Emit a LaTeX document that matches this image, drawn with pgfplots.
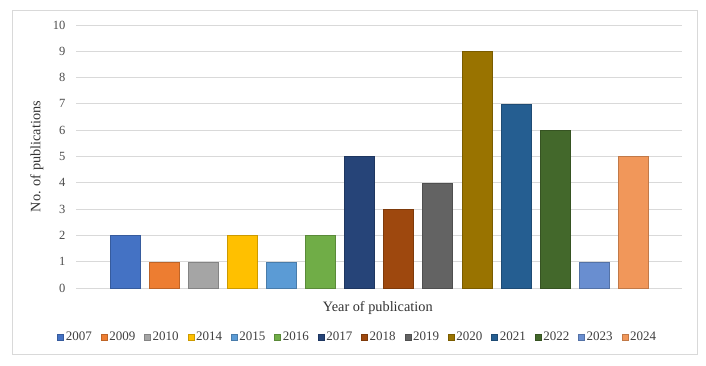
\documentclass[border=0pt]{standalone}
\usepackage{fontspec}
\setmainfont{Liberation Serif}
\usepackage{pgfplots}
\pgfplotsset{compat=1.18}
\definecolor{c07}{HTML}{4472C4}
\definecolor{c09}{HTML}{ED7D31}
\definecolor{c10}{HTML}{A5A5A5}
\definecolor{c14}{HTML}{FFC000}
\definecolor{c15}{HTML}{5B9BD5}
\definecolor{c16}{HTML}{70AD47}
\definecolor{c17}{HTML}{264478}
\definecolor{c18}{HTML}{9E480E}
\definecolor{c19}{HTML}{636363}
\definecolor{c20}{HTML}{997300}
\definecolor{c21}{HTML}{255E91}
\definecolor{c22}{HTML}{43682B}
\definecolor{c23}{HTML}{698ED0}
\definecolor{c24}{HTML}{F1975A}
\definecolor{gridgray}{HTML}{D9D9D9}
\definecolor{framegray}{HTML}{D9D9D9}
\begin{document}
\begin{tikzpicture}[x=1pt,y=1pt]
\path[use as bounding box, fill=white] (-76,-77) rectangle (630,288);
\draw[framegray, line width=1pt] (-63,-66) rectangle (621,278);
\begin{axis}[at={(0,0)}, anchor=south west, scale only axis,
  width=606pt, height=263pt,
  xmin=-1.25, xmax=14.25, ymin=0, ymax=10,
  ybar, bar width=30pt, bar shift=0pt,
  xtick=\empty, ytick={0,1,...,10},
  ymajorgrids, grid style={draw=gridgray, line width=0.9pt},
  axis line style={draw=none}, major tick style={draw=none},
  /pgf/number format/assume math mode=true,
  yticklabel style={font=\fontsize{12.5}{14}\selectfont, text=black!70, xshift=-7pt},
  ylabel={No. of publications}, xlabel={Year of publication},
  label style={font=\fontsize{14.3}{16}\selectfont, text=black!80},
  ylabel style={at={(axis description cs:-0.0644,0.5)}, anchor=center},
  xlabel style={at={(axis description cs:0.498,-0.076)}, anchor=center},
  legend columns=14,
  legend style={at={(axis description cs:0.465,-0.186)}, anchor=center,
    draw=none, fill=none, font=\fontsize{13}{15}\selectfont, text=black!75,
    /tikz/every even column/.append style={column sep=7pt}},
  legend image code/.code={\fill[#1] (0pt,-3pt) rectangle (6pt,3pt);},
]
\addplot[fill=c07, draw=c07!80!black] coordinates {(0,2)};
\addplot[fill=c09, draw=c09!80!black] coordinates {(1,1)};
\addplot[fill=c10, draw=c10!80!black] coordinates {(2,1)};
\addplot[fill=c14, draw=c14!80!black] coordinates {(3,2)};
\addplot[fill=c15, draw=c15!80!black] coordinates {(4,1)};
\addplot[fill=c16, draw=c16!80!black] coordinates {(5,2)};
\addplot[fill=c17, draw=c17!80!black] coordinates {(6,5)};
\addplot[fill=c18, draw=c18!80!black] coordinates {(7,3)};
\addplot[fill=c19, draw=c19!80!black] coordinates {(8,4)};
\addplot[fill=c20, draw=c20!80!black] coordinates {(9,9)};
\addplot[fill=c21, draw=c21!80!black] coordinates {(10,7)};
\addplot[fill=c22, draw=c22!80!black] coordinates {(11,6)};
\addplot[fill=c23, draw=c23!80!black] coordinates {(12,1)};
\addplot[fill=c24, draw=c24!80!black] coordinates {(13,5)};
\legend{2007,2009,2010,2014,2015,2016,2017,2018,2019,2020,2021,2022,2023,2024}
\end{axis}
\end{tikzpicture}
\end{document}
